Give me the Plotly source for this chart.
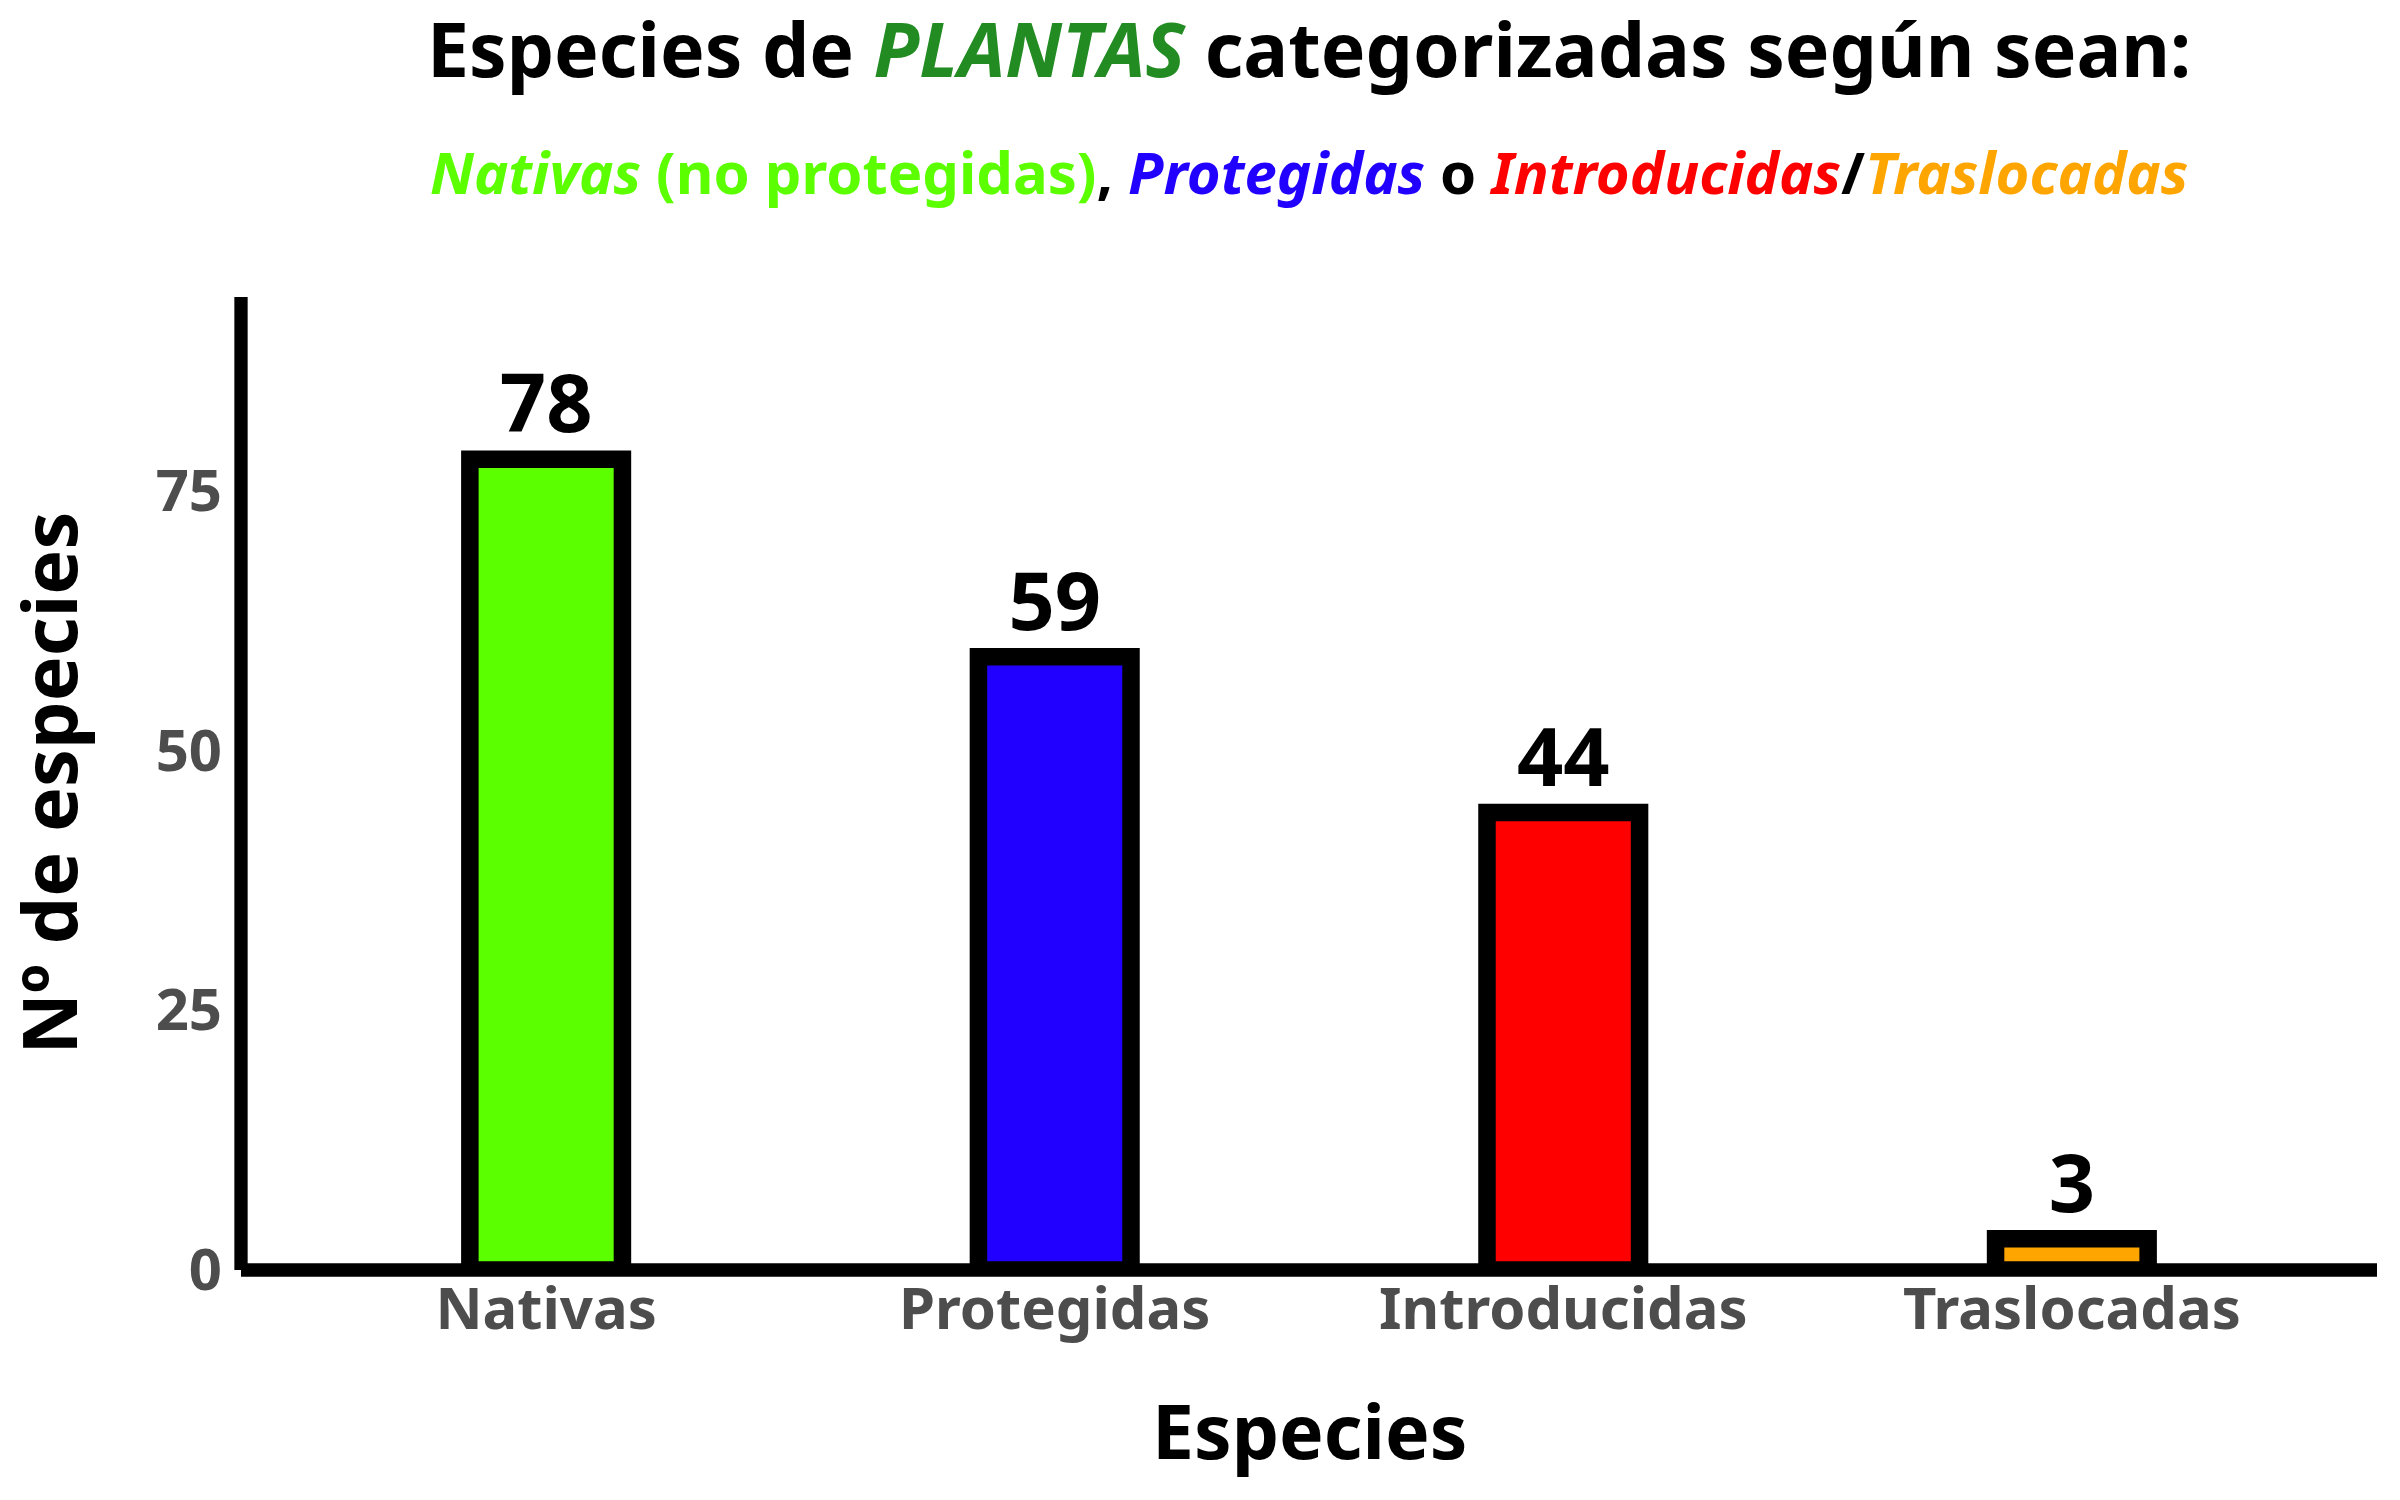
import plotly.graph_objects as go

categories = ["Nativas", "Protegidas", "Introducidas", "Traslocadas"]
values = [78, 59, 44, 3]
bar_colors = ["#5CFF00", "#2200FF", "#FF0000", "#FFA500"]
y_ticks = [0, 25, 50, 75]

FONT = "Noto Sans"

fig = go.Figure()
fig.add_trace(go.Bar(
    x=categories,
    y=values,
    width=0.3,
    marker=dict(color=bar_colors, line=dict(color="black", width=17.5)),
    text=[str(v) for v in values],
    textposition="outside",
    constraintext="none",
    cliponaxis=False,
    textfont=dict(family=FONT, size=81, color="black", weight="bold"),
    hoverinfo="skip",
))

title_txt = ("<b>Especies de <i><span style='color:#228B22'>PLANTAS</span></i> "
             "categorizadas según sean:</b>")
sub_txt = ("<b><span style='color:#5CFF00'><i>Nativas</i> (no protegidas)</span>, "
           "<span style='color:#2200FF'><i>Protegidas</i></span> o "
           "<span style='color:#FF0000'><i>Introducidas</i></span>/"
           "<span style='color:#FFA500'><i>Traslocadas</i></span></b>")

annotations = [
    dict(text=title_txt, x=0.5, y=1.256, xref="paper", yref="paper",
         xanchor="center", yanchor="middle", showarrow=False,
         font=dict(family=FONT, size=75, color="black")),
    dict(text=sub_txt, x=0.5, y=1.1285, xref="paper", yref="paper",
         xanchor="center", yanchor="middle", showarrow=False,
         font=dict(family=FONT, size=58, color="black")),
    dict(text="<b>Especies</b>", x=0.5, y=-0.1644, xref="paper", yref="paper",
         xanchor="center", yanchor="middle", showarrow=False,
         font=dict(family=FONT, size=75, color="black")),
    dict(text="<b>Nº de especies</b>", x=-0.0908, y=0.5, xref="paper", yref="paper",
         xanchor="center", yanchor="middle", showarrow=False, textangle=-90,
         font=dict(family=FONT, size=75.5, color="black")),
]

shapes = [
    dict(type="line", xref="paper", yref="paper", x0=0, x1=1, y0=0, y1=0,
         line=dict(color="black", width=13.3), layer="above"),
    dict(type="line", xref="paper", yref="paper", x0=0, x1=0, y0=0, y1=1,
         line=dict(color="black", width=13.3), layer="above"),
]

fig.update_layout(
    width=2392, height=1492,
    margin=dict(l=233, r=23, t=289, b=230),
    paper_bgcolor="white", plot_bgcolor="white",
    showlegend=False,
    annotations=annotations,
    shapes=shapes,
    font=dict(family=FONT),
)
fig.update_xaxes(
    range=[-0.6, 3.6], showgrid=False, zeroline=False, showline=False,
    ticks="", ticklabelstandoff=0,
    tickfont=dict(family=FONT, size=58, color="#4D4D4D", weight="bold"),
)
fig.update_yaxes(
    range=[0, 93.6], showgrid=False, zeroline=False, showline=False,
    tickvals=y_ticks, ticks="", ticklabelstandoff=18,
    tickfont=dict(family=FONT, size=58, color="#4D4D4D", weight="bold"),
)

fig.write_html("out.html")
